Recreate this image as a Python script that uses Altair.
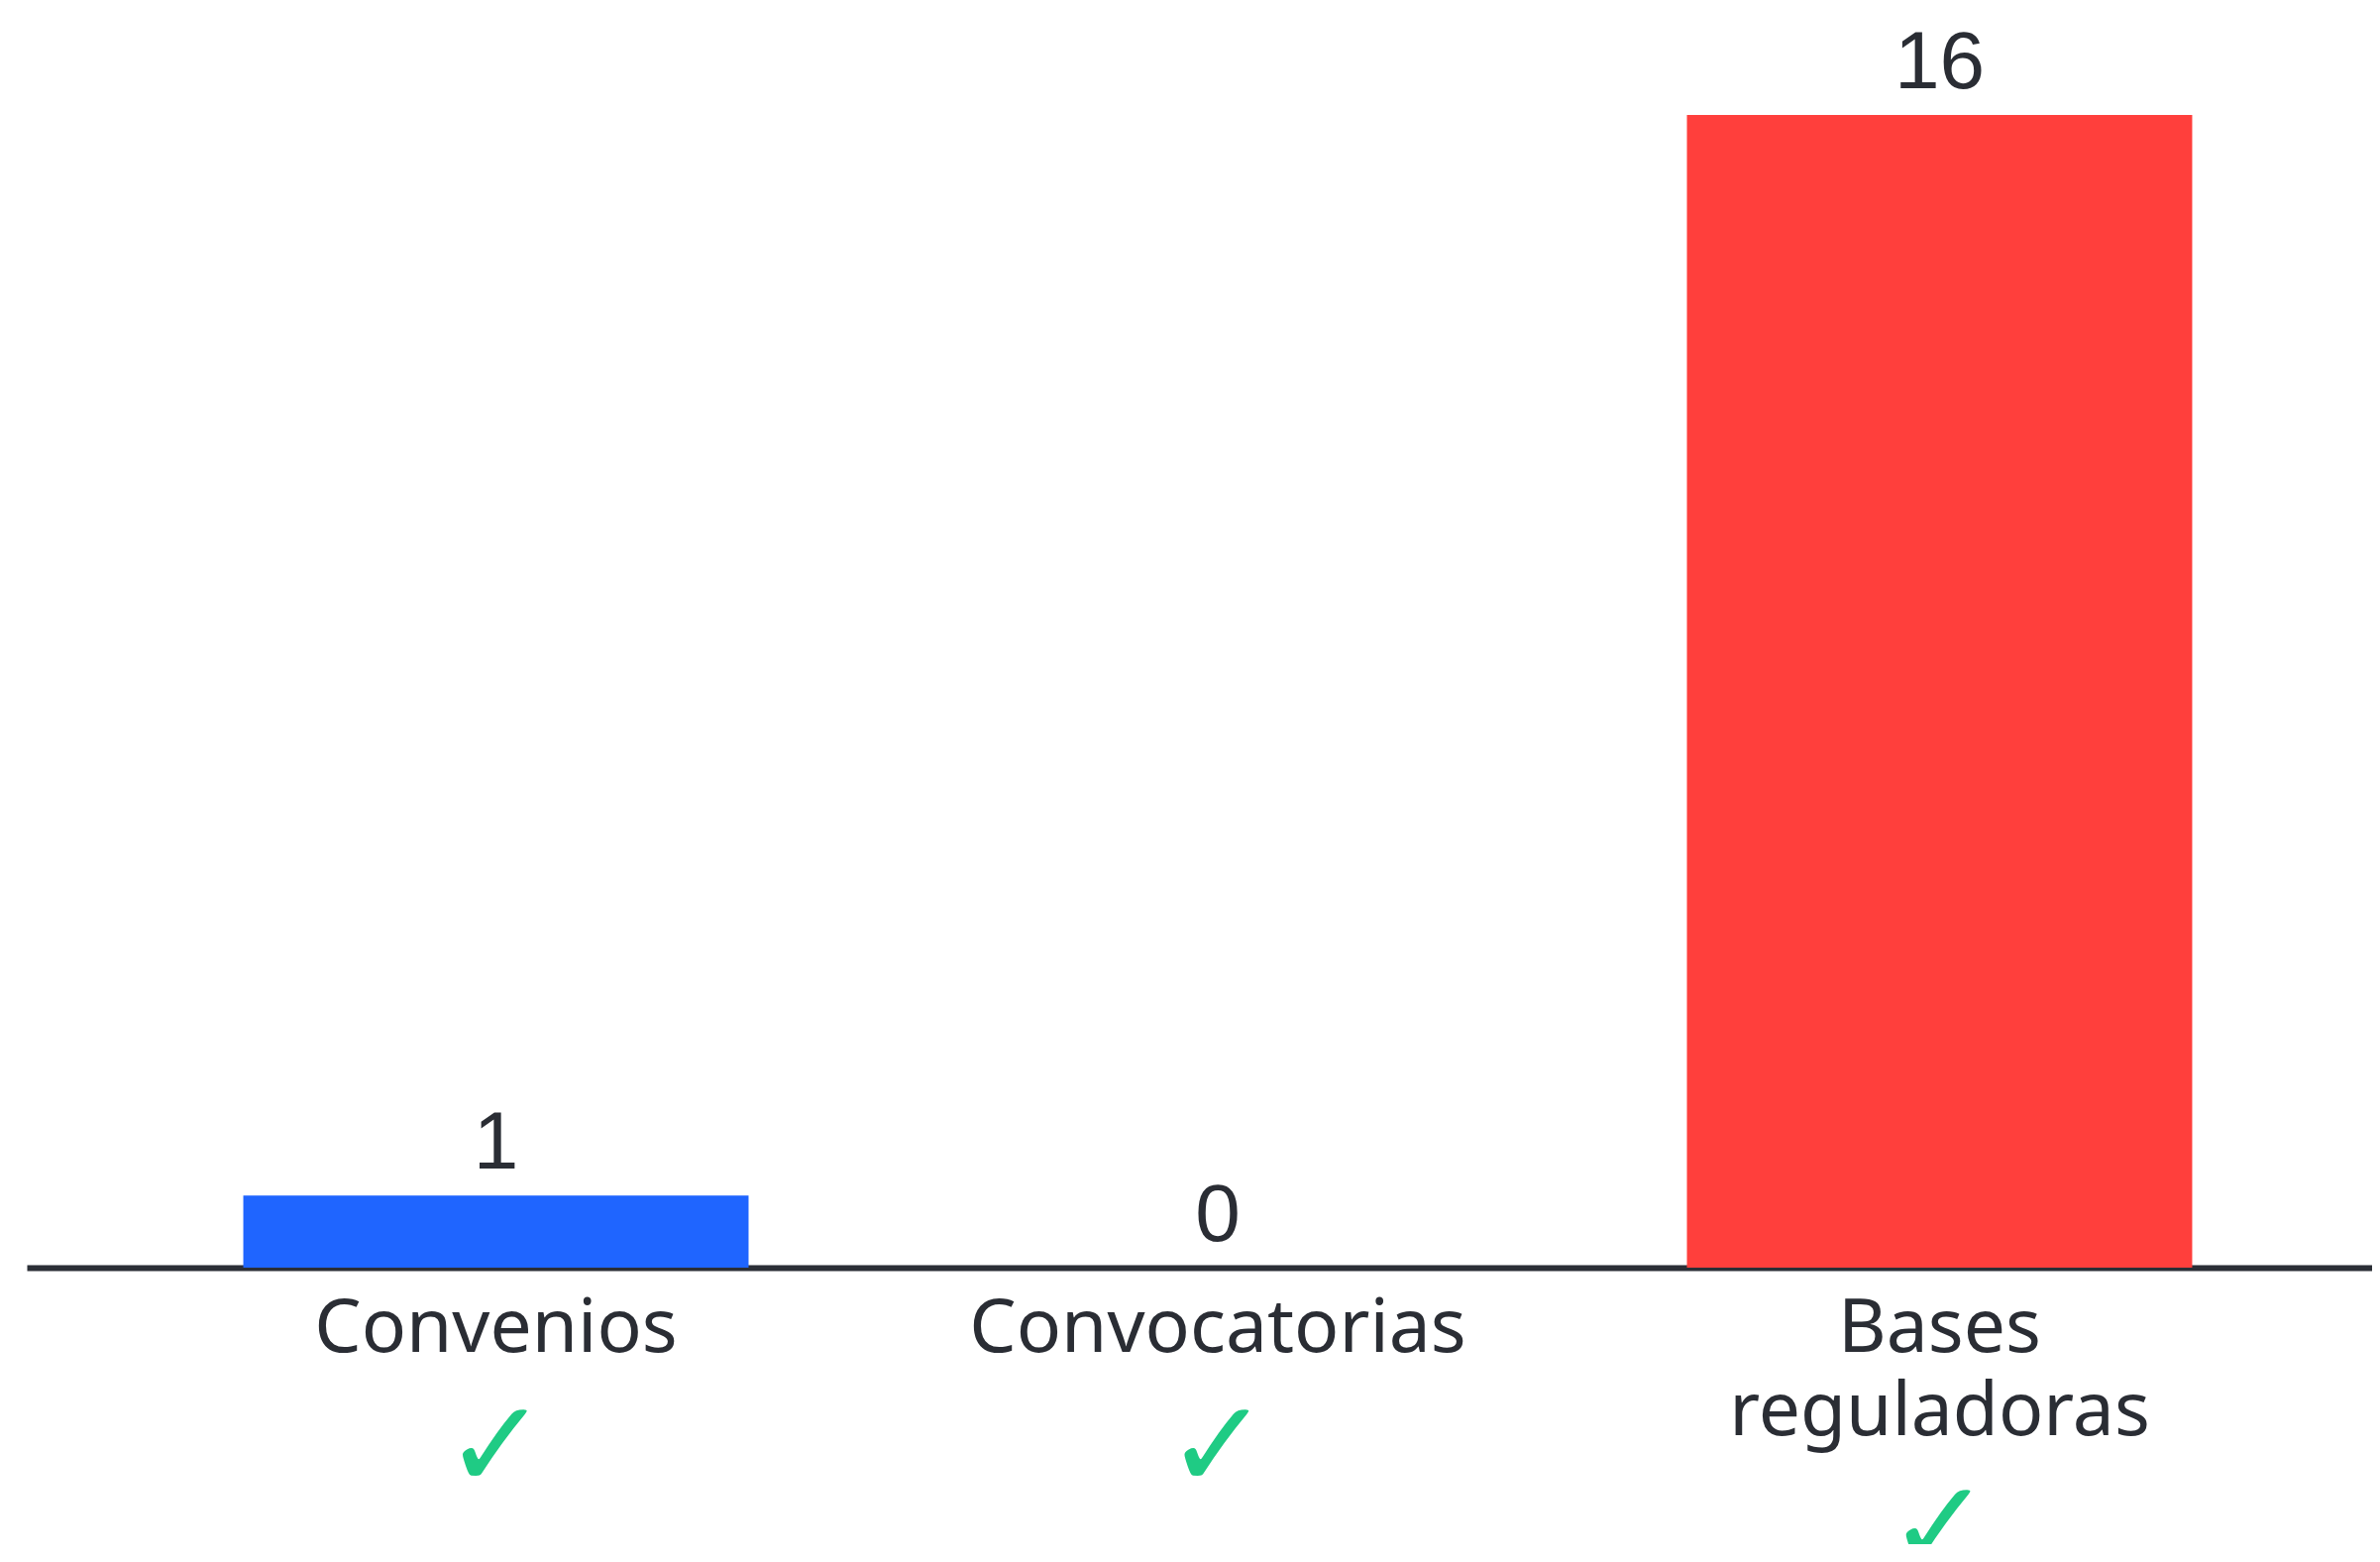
import altair as alt
import pandas as pd

categories = ["Convenios", "Convocatorias", "Bases reguladoras"]
values = [1, 0, 16]
bar_colors = ["#1f65ff", "#9aa0a6", "#ff3f3c"]
checks = ["✓", "✓", "✓"]

df = pd.DataFrame({"cat": categories, "val": values, "color": bar_colors, "check": checks})

text_color = "#2a2d34"

xscale = alt.Scale(paddingInner=0.3, paddingOuter=0.3)

base = alt.Chart(df)

bars = base.mark_bar().encode(
    x=alt.X("cat:N", sort=categories, scale=xscale,
            axis=alt.Axis(orient="bottom", title=None, labelAngle=0, ticks=False, grid=False,
                          domain=True, domainColor="#2b2f36", domainWidth=6,
                          labelFont="Noto Sans", labelFontSize=75, labelColor=text_color,
                          labelPadding=25, labelLineHeight=84, labelBaseline="top",
                          labelLimit=2000,
                          labelExpr="split(datum.label, ' ')")),
    y=alt.Y("val:Q", scale=alt.Scale(domain=[0, 16], nice=False), axis=None),
    color=alt.Color("color:N", scale=None, legend=None),
)

labels = base.mark_text(font="Liberation Sans", fontSize=82, color=text_color,
                        baseline="alphabetic", dy=-27).encode(
    x=alt.X("cat:N", sort=categories, scale=xscale, axis=None),
    y=alt.Y("val:Q", axis=None),
    text=alt.Text("val:Q"),
)

check_layer = base.mark_text(opacity=0).encode(
    x=alt.X("cat:N", sort=categories, scale=xscale,
            axis=alt.Axis(orient="bottom", title=None, labelAngle=0, ticks=False, grid=False,
                          domain=False, labelFont="DejaVu Sans", labelFontSize=125,
                          labelColor="#1fcb84", labelPadding=122, labelLineHeight=81,
                          labelBaseline="top", labelLimit=2000,
                          labelExpr="indexof(datum.label, ' ') >= 0 ? ['', '✓'] : '✓'")),
    text=alt.Text("check:N"),
)

chart = alt.layer(bars, labels, check_layer).resolve_axis(x="independent").properties(
    width=2404, height=1163,
    autosize=alt.AutoSizeParams(type="none"),
    padding={"left": 19, "right": -37, "top": 108, "bottom": 279},
    background="white",
).configure_view(stroke=None)

chart.save("out.html", embed_options={"renderer": "svg", "actions": False})
